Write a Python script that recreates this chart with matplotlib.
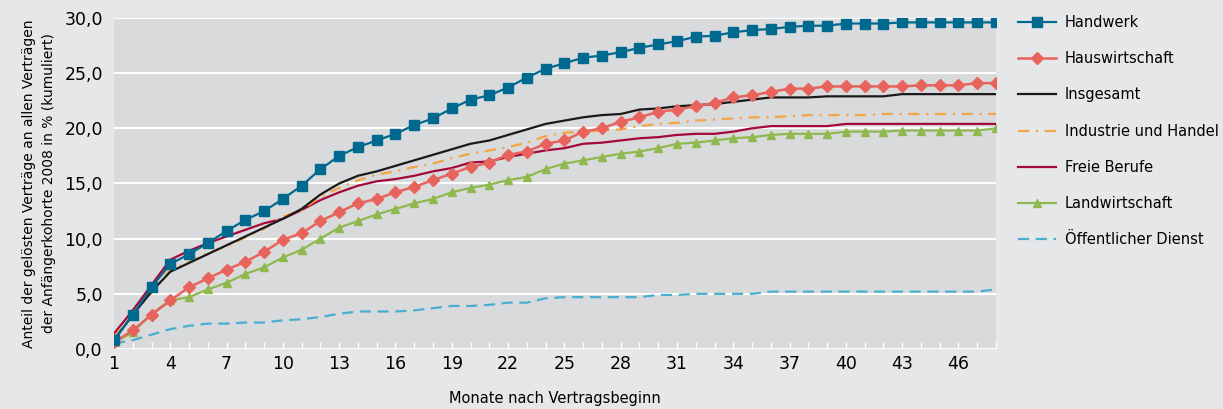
import matplotlib
matplotlib.use("Agg")
import matplotlib.pyplot as plt
from matplotlib.ticker import FuncFormatter, MultipleLocator

plt.rcParams['font.family'] = ['DejaVu Sans Condensed', 'DejaVu Sans']

# Monate 1..48
monate = list(range(1, 49))

handwerk = [0.8, 3.1, 5.6, 7.7, 8.6, 9.6, 10.7, 11.7, 12.5, 13.6, 14.8, 16.3, 17.5, 18.3, 18.9, 19.5,
            20.3, 20.9, 21.8, 22.6, 23.0, 23.7, 24.6, 25.4, 25.9, 26.4, 26.6, 26.9, 27.3, 27.6, 27.9, 28.3,
            28.4, 28.7, 28.9, 29.0, 29.2, 29.3, 29.3, 29.5, 29.5, 29.5, 29.6, 29.6, 29.6, 29.6, 29.6, 29.6]
hauswirtschaft = [0.6, 1.7, 3.1, 4.4, 5.6, 6.4, 7.2, 7.9, 8.8, 9.9, 10.5, 11.6, 12.4, 13.2, 13.6, 14.2,
                  14.7, 15.3, 15.9, 16.5, 16.9, 17.6, 17.9, 18.6, 18.9, 19.7, 20.0, 20.6, 21.0, 21.5, 21.7, 22.0,
                  22.3, 22.8, 23.0, 23.3, 23.6, 23.6, 23.8, 23.8, 23.8, 23.8, 23.8, 23.9, 23.9, 23.9, 24.1, 24.1]
insgesamt = [0.8, 3.1, 5.2, 7.0, 7.8, 8.6, 9.4, 10.2, 11.0, 11.8, 12.7, 14.0, 15.0, 15.7, 16.1, 16.6,
             17.1, 17.6, 18.1, 18.6, 18.9, 19.4, 19.9, 20.4, 20.7, 21.0, 21.2, 21.3, 21.7, 21.8, 22.0, 22.1,
             22.2, 22.4, 22.6, 22.8, 22.8, 22.8, 22.9, 22.9, 22.9, 22.9, 23.1, 23.1, 23.1, 23.1, 23.1, 23.1]
industrie = [1.1, 3.1, 5.1, 7.2, 7.9, 8.7, 9.3, 10.1, 10.9, 12.0, 12.6, 13.8, 14.6, 15.3, 15.8, 16.1,
             16.5, 16.8, 17.3, 17.7, 18.0, 18.3, 18.7, 19.3, 19.6, 19.7, 19.8, 19.9, 20.2, 20.4, 20.5, 20.7,
             20.8, 20.9, 21.0, 21.0, 21.1, 21.2, 21.2, 21.2, 21.2, 21.3, 21.3, 21.3, 21.3, 21.3, 21.3, 21.3]
freie_berufe = [1.4, 3.5, 5.8, 8.1, 8.9, 9.6, 10.2, 10.8, 11.4, 11.8, 12.6, 13.5, 14.2, 14.8, 15.2, 15.4,
                15.7, 16.1, 16.4, 16.9, 17.0, 17.4, 17.7, 18.0, 18.2, 18.6, 18.7, 18.9, 19.1, 19.2, 19.4, 19.5,
                19.5, 19.7, 20.0, 20.2, 20.2, 20.2, 20.2, 20.4, 20.4, 20.4, 20.4, 20.4, 20.4, 20.4, 20.4, 20.4]
landwirtschaft = [0.6, 1.5, 3.2, 4.4, 4.7, 5.4, 6.0, 6.8, 7.4, 8.3, 9.0, 10.0, 11.0, 11.6, 12.2, 12.7,
                  13.2, 13.6, 14.2, 14.6, 14.9, 15.3, 15.6, 16.3, 16.8, 17.1, 17.4, 17.7, 17.9, 18.2, 18.6, 18.7,
                  18.9, 19.1, 19.2, 19.4, 19.5, 19.5, 19.5, 19.7, 19.7, 19.7, 19.8, 19.8, 19.8, 19.8, 19.8, 20.0]
oeffentlich = [0.5, 0.8, 1.3, 1.8, 2.1, 2.3, 2.3, 2.4, 2.4, 2.6, 2.7, 2.9, 3.2, 3.4, 3.4, 3.4,
               3.5, 3.7, 3.9, 3.9, 4.0, 4.2, 4.2, 4.6, 4.7, 4.7, 4.7, 4.7, 4.7, 4.9, 4.9, 5.0,
               5.0, 5.0, 5.0, 5.2, 5.2, 5.2, 5.2, 5.2, 5.2, 5.2, 5.2, 5.2, 5.2, 5.2, 5.2, 5.4]

x_labels = list(range(1, 47, 3))

fig = plt.figure(figsize=(12.23, 4.09), dpi=100, facecolor='#e6e7e8')
ax = fig.add_axes([0.0932, 0.1467, 0.7212, 0.8093])
ax.set_facecolor('#d9dadb')

lines = {}
lines['Öffentlicher Dienst'] = ax.plot(monate, oeffentlich, color='#4aaed0', lw=1.6, ls=(0, (5, 3)), zorder=2)[0]
lines['Landwirtschaft'] = ax.plot(monate, landwirtschaft, color='#8fb84e', lw=1.6, marker='^', ms=6, zorder=3)[0]
lines['Freie Berufe'] = ax.plot(monate, freie_berufe, color='#a3093b', lw=1.6, zorder=4)[0]
lines['Industrie und Handel'] = ax.plot(monate, industrie, color='#f4a444', lw=1.6, ls=(0, (5, 3, 1, 3)), zorder=5)[0]
lines['Insgesamt'] = ax.plot(monate, insgesamt, color='#1a1a1a', lw=1.6, zorder=6)[0]
lines['Hauswirtschaft'] = ax.plot(monate, hauswirtschaft, color='#e8635c', lw=1.8, marker='D', ms=6, zorder=7)[0]
lines['Handwerk'] = ax.plot(monate, handwerk, color='#00698f', lw=1.6, marker='s', ms=6.5, zorder=8)[0]

order = ['Handwerk', 'Hauswirtschaft', 'Insgesamt', 'Industrie und Handel',
         'Freie Berufe', 'Landwirtschaft', 'Öffentlicher Dienst']
leg = fig.legend([lines[k] for k in order], order, loc='upper left', bbox_to_anchor=(0.822, 0.995),
                 frameon=False, fontsize=10.5, handlelength=2.6, labelspacing=1.45, handletextpad=0.6)

ax.set_xlim(1, 48)
ax.set_ylim(0, 30)
ax.set_xticks(x_labels)
ax.xaxis.set_minor_locator(MultipleLocator(1))
ax.yaxis.set_major_locator(MultipleLocator(5))
ax.yaxis.set_major_formatter(FuncFormatter(lambda v, p: f'{v:.1f}'.replace('.', ',')))
ax.tick_params(axis='x', which='both', direction='in', color='white', length=5, width=1, labelsize=12.5, pad=4)
ax.tick_params(axis='y', length=0, labelsize=12.5, pad=8)
ax.grid(axis='y', color='white', lw=1.5, zorder=1)
ax.set_axisbelow(True)
for s in ax.spines.values():
    s.set_visible(False)

ax.set_ylabel('Anteil der gelösten Verträge an allen Verträgen\nder Anfängerkohorte 2008 in % (kumuliert)',
              fontsize=10, labelpad=6, linespacing=1.55)
ax.set_xlabel('Monate nach Vertragsbeginn', fontsize=10.5, labelpad=13)

fig.savefig('out.png', dpi=100, facecolor=fig.get_facecolor())
